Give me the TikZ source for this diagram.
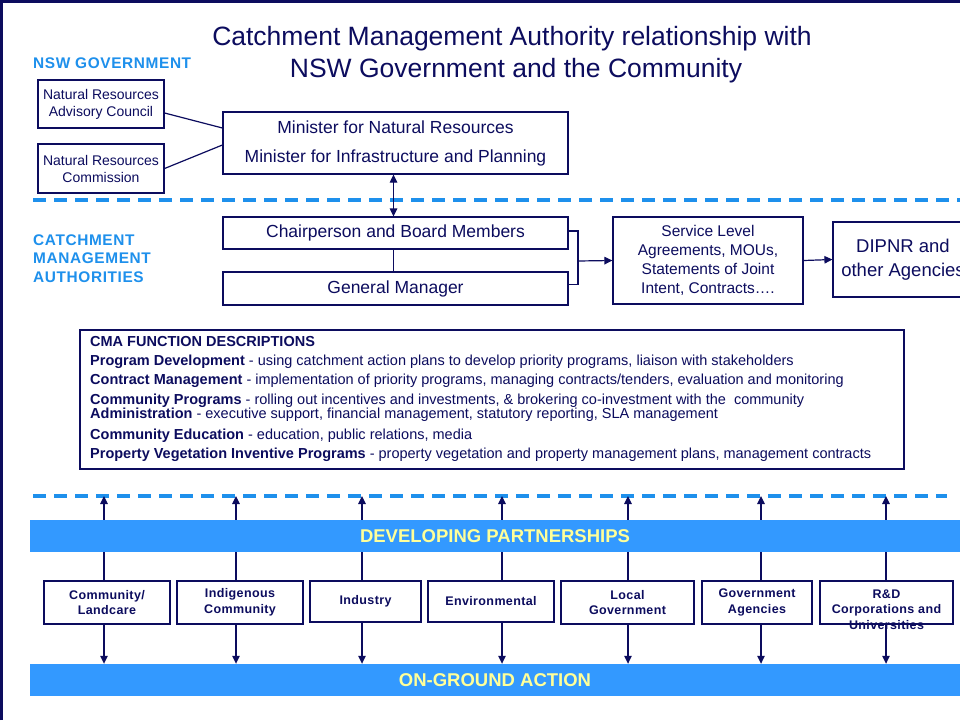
\documentclass[tikz,border=0pt]{standalone}
\usepackage{fontspec}
\setmainfont{Liberation Sans}
\usetikzlibrary{arrows.meta}
\definecolor{navy}{HTML}{0C0C5E}
\definecolor{skyb}{HTML}{1E90EC}
\definecolor{bandb}{HTML}{3399FF}
\definecolor{bandt}{HTML}{FFFF99}
\newcommand{\setfs}[2]{\fontsize{#1}{#2}\selectfont}
\begin{document}
\begin{tikzpicture}[x=1pt,y=-1pt,
  box/.style={draw=navy,line width=1.2pt,fill=white,text=navy,align=center,inner sep=0pt},
  conn/.style={draw=navy,line width=1.2pt},
  arr/.style={conn,-{Triangle[length=8pt,width=7.5pt]}},
  darr/.style={conn,{Triangle[length=8pt,width=7.5pt]}-{Triangle[length=8pt,width=7.5pt]}},
  dashline/.style={draw=skyb,line width=3.2pt,dash pattern=on 13pt off 8pt},
  band/.style={fill=bandb,draw=none,inner sep=0pt,minimum width=930pt,minimum height=32pt,
    text=bandt,font=\bfseries\setfs{18.5}{22}},
  sect/.style={text=skyb,font=\bfseries\setfs{15.4}{18.5}\addfontfeatures{LetterSpace=4},align=left,inner sep=0pt},
  pbox/.style={box,font=\bfseries\setfs{12.5}{15.5}\addfontfeatures{LetterSpace=3}},
  fline/.style={text=navy,font=\setfs{14.5}{17},inner sep=0pt,anchor=base west},
  ttl/.style={text=navy,font=\setfs{26.5}{32},anchor=base,inner sep=0pt},
]
\clip (0,0) rectangle (960,720);
\fill[white] (0,0) rectangle (960,720);
\draw[navy,line width=2.5pt] (1.25,720) -- (1.25,1.25) -- (960,1.25);

% title
\node[ttl] (t1) at (512,45) {Catchment Management Authority relationship with};
\node[ttl] (t2) at (516,77) {NSW Government and the Community};

% section labels
\node[sect,anchor=base west] (nsw) at (33,68.3) {NSW GOVERNMENT};
\node[sect,anchor=north west] (cmal) at (33,234.5) {CATCHMENT\\MANAGEMENT\\AUTHORITIES};

% dashed separators
\coordinate (d1a) at (33,200);
\coordinate (d1b) at (960,200);
\coordinate (d2a) at (33,496);
\coordinate (d2b) at (947,496);
\draw[dashline] (d1a) -- (d1b);
\draw[dashline] (d2a) -- (d2b);

% government boxes
\node[box,font=\setfs{14}{17},minimum width=126pt,minimum height=48pt] (nrac) at (101,104) {Natural Resources\\Advisory Council};
\node[box,font=\setfs{14}{17},minimum width=126pt,minimum height=49pt] (nrc) at (101,168.5) {Natural Resources\\Commission};
\node[box,font=\setfs{17.5}{29},minimum width=345pt,minimum height=62pt] (min) at (395.5,143) {Minister for Natural Resources\\Minister for Infrastructure and Planning};

% CMA boxes
\node[box,font=\setfs{17.5}{21},minimum width=345pt,minimum height=32pt] (chair) at (395.5,233) {Chairperson and Board Members};
\node[box,font=\setfs{17.5}{21},minimum width=345pt,minimum height=33pt] (gm) at (395.5,288.5) {General Manager};
\node[box,font=\setfs{15.5}{19},minimum width=190pt,minimum height=87pt] (sla) at (708,260.5) {Service Level\\Agreements, MOUs,\\Statements of Joint\\Intent, Contracts….};
\node[box,font=\setfs{18.5}{23.5},minimum width=140pt,minimum height=75pt] (dip) at (903,259.5) {DIPNR and\\other Agencies};

% connectors top
\draw[conn] ([yshift=-9pt]nrac.east) -- ([yshift=15pt]min.west);
\draw[conn] (nrc.east) -- ([yshift=-2pt]min.west);
\draw[darr] ([xshift=-2pt]min.south) -- ([xshift=-2pt]chair.north);
\draw[conn] ([xshift=-2pt]chair.south) -- ([xshift=-2pt]gm.north);
\coordinate (br) at (578,261);
\draw[conn] ([yshift=2pt]chair.east) -| (br) |- ([yshift=4pt]gm.east);
\draw[arr] (br) -- (sla.west);
\draw[arr] (sla.east) -- (dip.west);

% function descriptions
\node[box,minimum width=824pt,minimum height=139pt] (fbox) at (492,399.5) {};
\node[fline,font=\bfseries\setfs{14.5}{17}] (f0) at (90,346.5) {CMA FUNCTION DESCRIPTIONS};
\node[fline] (f1) at (90,365.5) {\textbf{Program Development} - using catchment action plans to develop priority programs, liaison with stakeholders};
\node[fline] (f2) at (90,384.5) {\textbf{Contract Management} - implementation of priority programs, managing contracts/tenders, evaluation and monitoring};
\node[fline] (f3) at (90,404.5) {\textbf{Community Programs} - rolling out incentives and investments, \& brokering co-investment with the\ \ community};
\node[fline] (f4) at (90,418.5) {\textbf{Administration} - executive support, financial management, statutory reporting, SLA management};
\node[fline] (f5) at (90,439.5) {\textbf{Community Education} - education, public relations, media};
\node[fline] (f6) at (90,458.5) {\textbf{Property Vegetation Inventive Programs} - property vegetation and property management plans, management contracts};

% bottom band
\node[band] (og) at (495,680) {ON-GROUND ACTION};

% partner boxes
\node[pbox,minimum width=126pt,minimum height=43pt] (c1) at (107,602.5) {Community/\\Landcare};
\node[pbox,minimum width=126pt,minimum height=43pt] (c2) at (240,602.5) {Indigenous\\Community};
\node[pbox,minimum width=111pt,minimum height=41pt] (c3) at (365.5,601.5) {Industry};
\node[pbox,minimum width=126pt,minimum height=41pt] (c4) at (491,601.5) {Environmental};
\node[pbox,minimum width=133pt,minimum height=43pt] (c5) at (627.5,602.5) {Local\\Government};
\node[pbox,minimum width=110pt,minimum height=43pt] (c6) at (757,602.5) {Government\\Agencies};
\node[pbox,minimum width=133pt,minimum height=43pt] (c7) at (886.5,602.5) {};
\node[text=navy,font=\bfseries\setfs{12.5}{15.5}\addfontfeatures{LetterSpace=3},align=center,anchor=north,inner sep=0pt] (c7t) at ([yshift=-9pt]c7.north) {R\&D\\Corporations and\\Universities};

% arrows
\coordinate (a1) at (104,496);
\coordinate (a2) at (236,496);
\coordinate (a3) at (362,496);
\coordinate (a4) at (502,496);
\coordinate (a5) at (628,496);
\coordinate (a6) at (761,496);
\coordinate (a7) at (886,496);
\foreach \i in {1,...,7}{
  \draw[arr] (c\i.north -| a\i) -- (a\i);
  \draw[arr] (c\i.south -| a\i) -- (og.north -| a\i);
}

% developing band (over the upward arrows)
\node[band] (dev) at (495,536) {DEVELOPING PARTNERSHIPS};
\end{tikzpicture}
\end{document}
